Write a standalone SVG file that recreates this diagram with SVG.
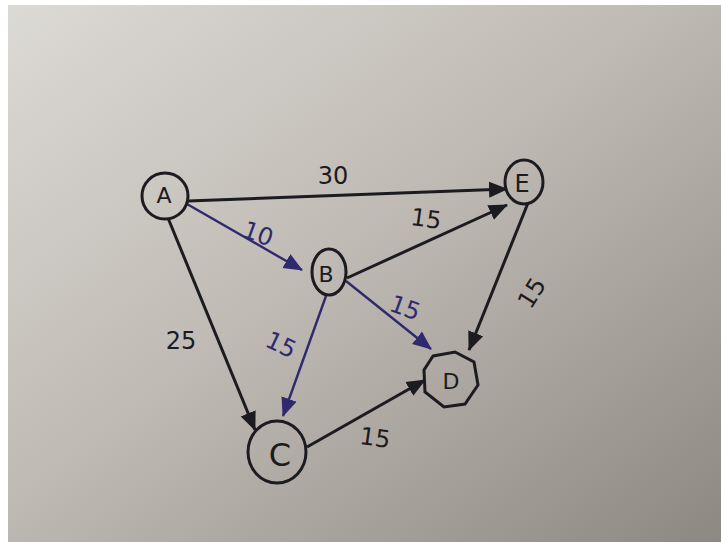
<svg xmlns="http://www.w3.org/2000/svg" width="721" height="542" viewBox="0 0 721 542">
<defs>
  <linearGradient id="paper" x1="0" y1="0" x2="1" y2="1">
    <stop offset="0" stop-color="#dcdad6"/>
    <stop offset="0.45" stop-color="#c0bbb4"/>
    <stop offset="1" stop-color="#8d8881"/>
  </linearGradient>
  <marker id="ak" markerUnits="userSpaceOnUse" markerWidth="20" markerHeight="18" refX="18" refY="8" orient="auto" viewBox="0 0 20 16">
    <path d="M0,0 L19,8 L0,16 z" fill="#1c1b20"/>
  </marker>
  <marker id="ap" markerUnits="userSpaceOnUse" markerWidth="20" markerHeight="18" refX="18" refY="8" orient="auto" viewBox="0 0 20 16">
    <path d="M0,0 L19,8 L0,16 z" fill="#2f2a6e"/>
  </marker>
  <style>
    .node { fill: none; stroke: #1c1b20; stroke-width: 3; }
    .nl { font-family: "DejaVu Sans", sans-serif; fill: #1c1b20; text-anchor: middle; dominant-baseline: central; }
    .ek { stroke: #1c1b20; stroke-width: 3; fill: none; marker-end: url(#ak); }
    .ep { stroke: #2f2a6e; stroke-width: 2.4; fill: none; marker-end: url(#ap); }
    .lk { font-family: "DejaVu Sans", sans-serif; font-size: 24px; fill: #1c1b20; text-anchor: middle; dominant-baseline: central; }
    .lp { font-family: "DejaVu Sans", sans-serif; font-size: 24px; fill: #2f2a6e; text-anchor: middle; dominant-baseline: central; }
  </style>
</defs>
<rect x="0" y="0" width="721" height="542" fill="#ffffff"/>
<rect x="8" y="5" width="713" height="537" fill="url(#paper)"/>

<g id="connectors">
  <path class="ek" d="M188,201 L507,189"/>
  <path class="ep" d="M187,204 L302,270"/>
  <path class="ek" d="M168,218 L255,430"/>
  <path class="ep" d="M326,296 L283,416"/>
  <path class="ek" d="M347,278 L507,205"/>
  <path class="ep" d="M346,281 L431,349"/>
  <path class="ek" d="M528,203 L469,350"/>
  <path class="ek" d="M307,447 L425,380"/>
</g>

<g id="edge-labels">
  <text class="lk" x="333" y="176">30</text>
  <text class="lp" x="258" y="234" transform="rotate(20 258 234)">10</text>
  <text class="lk" x="181" y="341">25</text>
  <text class="lp" x="281" y="345" transform="rotate(25 281 345)">15</text>
  <text class="lk" x="426" y="219" transform="rotate(8 426 219)">15</text>
  <text class="lp" x="405" y="308" transform="rotate(20 405 308)">15</text>
  <text class="lk" x="532" y="293" transform="rotate(-58 532 293)">15</text>
  <text class="lk" x="375" y="438" transform="rotate(8 375 438)">15</text>
</g>

<g id="node-A">
  <ellipse class="node" cx="165" cy="196" rx="23" ry="23"/>
  <text class="nl" x="164" y="195" font-size="22">A</text>
</g>
<g id="node-B">
  <ellipse class="node" cx="329" cy="272" rx="17" ry="23"/>
  <text class="nl" x="326" y="274" font-size="22">B</text>
</g>
<g id="node-C">
  <ellipse class="node" cx="277" cy="452" rx="29" ry="31"/>
  <text class="nl" x="280" y="455" font-size="32">C</text>
</g>
<g id="node-D">
  <path class="node" d="M433,356 L455,352 L474,362 L478,385 L465,404 L444,407 L425,392 L424,370 Z"/>
  <text class="nl" x="451" y="381" font-size="22">D</text>
</g>
<g id="node-E">
  <ellipse class="node" cx="524" cy="182" rx="19" ry="22"/>
  <text class="nl" x="522" y="184" font-size="24">E</text>
</g>
</svg>
